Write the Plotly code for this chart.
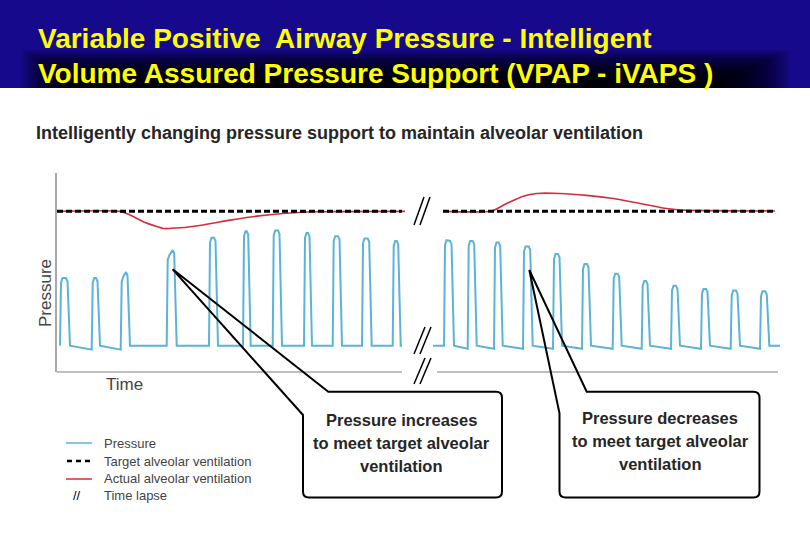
import plotly.graph_objects as go

W, H = 810, 540

# ------------------------------------------------------------------ data
title_lines = ["Variable Positive  Airway Pressure - Intelligent",
               "Volume Assured Pressure Support (VPAP - iVAPS )"]
subtitle = "Intelligently changing pressure support to maintain alveolar ventilation"

baseline_pressure = 3.3

# breaths before the time lapse (time units, pressure units)
left_rise = [0.3, 3.47, 6.37, 10.97, 15.2, 18.6, 21.57, 24.7, 27.57, 30.5, 33.57]
left_fall = [1.3, 4.3, 7.3, 11.97, 16.1, 19.37, 22.5, 25.5, 28.5, 31.47, 34.37]
left_peak_start = [11.75, 11.75, 11.9, 14.6, 16.8, 17.6, 17.7, 17.4, 17.0, 16.7, 16.4]
left_peak_end = [11.75, 11.75, 12.5, 15.25, 16.8, 17.6, 17.7, 17.4, 17.0, 16.7, 16.4]
left_dip = [0.0, 0.5, 0.5, 0.0, 0.0, 0.0, 0.0, 0.0, 0.0, 0.0, 0.0]
left_start, left_end = 0.3, 34.5

# breaths after the time lapse
right_rise = [38.7, 41.07, 43.7, 46.6, 49.6, 52.5, 55.57, 58.47, 61.4, 64.4, 67.37, 70.3]
right_fall = [39.7, 41.97, 44.57, 47.57, 50.5, 53.4, 56.47, 59.3, 62.3, 65.3, 68.3, 71.23]
right_peak_start = [16.5, 16.4, 16.2, 15.7, 14.75, 13.5, 12.3, 11.4, 10.8, 10.4, 10.2, 10.1]
right_peak_end = [16.4, 16.4, 16.2, 15.7, 14.75, 13.5, 12.3, 11.4, 10.8, 10.4, 10.2, 10.1]
right_dip = [0.0, 0.4, 0.4, 0.4, 0.4, 0.4, 0.4, 0.4, 0.4, 0.4, 0.4, 0.4]
right_start, right_end = 37.6, 72.3

# target alveolar ventilation (two segments)
target_level = 20.1
target_left_t = [0.0, 34.5]
target_right_t = [38.6, 71.8]

# actual alveolar ventilation
actual_left_t = [0.0, 6.3, 7.3, 8.63, 9.97, 10.63, 12.3, 14.6, 17.3, 19.97, 22.6, 25.6, 34.8]
actual_left_v = [20.1, 20.1, 19.65, 18.8, 18.2, 17.96, 18.04, 18.4, 19.0, 19.5, 19.84, 20.05, 20.1]
actual_right_t = [38.63, 43.47, 44.97, 46.63, 47.97, 50.3, 52.97, 55.63, 58.3, 60.97, 62.63, 71.8]
actual_right_v = [20.1, 20.15, 21.09, 22.0, 22.34, 22.34, 22.1, 21.7, 21.09, 20.46, 20.25, 20.15]

legend_labels = ["Pressure", "Target alveolar ventilation",
                 "Actual alveolar ventilation", "Time lapse"]
callout_left = ["Pressure increases", "to meet target alveolar", "ventilation"]
callout_right = ["Pressure decreases", "to meet target alveolar", "ventilation"]

# ------------------------------------------------------------------ style
BLUE = "#5cb4d5"
RED = "#d42e3a"
BANNER = "#16098c"
YELLOW = "#ffff00"
TEXT = "#262626"
GREY = "#444444"
AXIS = "#a8a8a8"
FONT = "Liberation Sans, Arial, sans-serif"


def fx(px):
    return px / W


def fy(py):
    return 1 - py / H


def waveform(start, end, rise, fall, ps, pe, dip, base):
    xs, ys = [], []
    if start < rise[0]:
        xs.append(start)
        ys.append(base)
    for r, f, a, b, d in zip(rise, fall, ps, pe, dip):
        xs += [r, r + 0.1, r + 0.25, f - 0.4, f - 0.25, f]
        ys += [base - d, a - 0.6, a, b, b - 0.4, base]
    if end > fall[-1]:
        xs.append(end)
        ys.append(base)
    return xs, ys


lx, ly = waveform(left_start, left_end, left_rise, left_fall,
                  left_peak_start, left_peak_end, left_dip, baseline_pressure)
rx, ry = waveform(right_start, right_end, right_rise, right_fall,
                  right_peak_start, right_peak_end, right_dip, baseline_pressure)

fig = go.Figure()

# pressure
fig.add_trace(go.Scatter(x=lx + [None] + rx, y=ly + [None] + ry, mode="lines",
                         name=legend_labels[0], line=dict(color=BLUE, width=2),
                         showlegend=False, hoverinfo="skip"))
# actual ventilation
fig.add_trace(go.Scatter(x=actual_left_t, y=actual_left_v, mode="lines",
                         name=legend_labels[2],
                         line=dict(color=RED, width=1.6, shape="spline", smoothing=0.6),
                         showlegend=False, hoverinfo="skip"))
fig.add_trace(go.Scatter(x=actual_right_t, y=actual_right_v, mode="lines",
                         name=legend_labels[2],
                         line=dict(color=RED, width=1.6, shape="spline", smoothing=0.6),
                         showlegend=False, hoverinfo="skip"))
# target ventilation
fig.add_trace(go.Scatter(x=target_left_t + [None] + target_right_t,
                         y=[target_level] * 2 + [None] + [target_level] * 2,
                         mode="lines", name=legend_labels[1],
                         line=dict(color="black", width=3, dash="6px,3px"),
                         showlegend=False, hoverinfo="skip"))

shapes = []
# banner
shapes.append(dict(type="rect", xref="paper", yref="paper", x0=0, x1=1,
                   y0=fy(88), y1=1, fillcolor=BANNER, line=dict(width=0), layer="below"))
n = 30
for i in range(n):
    shapes.append(dict(type="rect", xref="paper", yref="paper",
                       x0=fx(22 + i * 2.0), x1=fx(790 - i * 2.6),
                       y0=fy(88), y1=fy(50 + i * 1.15),
                       fillcolor="black", opacity=0.075, line=dict(width=0), layer="below"))

# x axis (broken)
for a, b in [(0, 34.5), (38.0, 72.1)]:
    shapes.append(dict(type="line", xref="x", yref="y domain", x0=a, x1=b, y0=0, y1=0,
                       line=dict(color=AXIS, width=1.5)))

# time-lapse marks
for (x0, y0, x1, y1) in [(414, 225, 424, 197), (414, 354, 425, 327), (414, 384, 425, 358)]:
    for off in (0, 6):
        shapes.append(dict(type="line", xref="paper", yref="paper",
                           x0=fx(x0 + off), y0=fy(y0), x1=fx(x1 + off), y1=fy(y1),
                           line=dict(color="black", width=1.5)))


def callout(tip, a_x, b_y, x0, x1, y0, y1, r=6):
    pts = [("M", tip), ("L", (a_x, y0)), ("L", (x1 - r, y0)),
           ("Q", (x1, y0), (x1, y0 + r)), ("L", (x1, y1 - r)),
           ("Q", (x1, y1), (x1 - r, y1)), ("L", (x0 + r, y1)),
           ("Q", (x0, y1), (x0, y1 - r)), ("L", (x0, b_y)), ("L", tip)]
    s = ""
    for p in pts:
        s += p[0] + " " + " ".join(f"{fx(q[0]):.5f},{fy(q[1]):.5f}" for q in p[1:]) + " "
    return dict(type="path", xref="paper", yref="paper", path=s.strip() + " Z",
                line=dict(color="black", width=2), fillcolor="rgba(0,0,0,0)")


shapes.append(callout((172.7, 269.3), 328.3, 415, 303, 502, 391.7, 497.5))
shapes.append(callout((529.3, 270.0), 586.7, 413.3, 559.5, 759.5, 391.7, 497.5))

# legend samples
shapes.append(dict(type="line", xref="paper", yref="paper", x0=fx(66), x1=fx(92),
                   y0=fy(443), y1=fy(443), line=dict(color=BLUE, width=1.5)))
shapes.append(dict(type="line", xref="paper", yref="paper", x0=fx(67), x1=fx(93),
                   y0=fy(461), y1=fy(461), line=dict(color="black", width=2.5, dash="5px,4px")))
shapes.append(dict(type="line", xref="paper", yref="paper", x0=fx(66), x1=fx(92),
                   y0=fy(479), y1=fy(479), line=dict(color=RED, width=1.5)))

ann = []
for txt, py in zip(title_lines, [38, 73]):
    ann.append(dict(text=f"<b>{txt}</b>", x=fx(36), y=fy(py), xref="paper", yref="paper",
                    xanchor="left", yanchor="middle", showarrow=False,
                    font=dict(family=FONT, size=28, color=YELLOW)))
ann.append(dict(text=f"<b>{subtitle}</b>", x=fx(34), y=fy(133), xref="paper", yref="paper",
                xanchor="left", yanchor="middle", showarrow=False,
                font=dict(family=FONT, size=18, color=TEXT)))
ann.append(dict(text="Pressure", x=fx(45), y=fy(293), xref="paper", yref="paper",
                textangle=-90, showarrow=False, xanchor="center", yanchor="middle",
                font=dict(family=FONT, size=17, color=GREY)))
ann.append(dict(text="Time", x=fx(124), y=fy(384), xref="paper", yref="paper",
                showarrow=False, xanchor="center", yanchor="middle",
                font=dict(family=FONT, size=17, color=GREY)))
for txt, py in zip(legend_labels, [443, 461, 478.5, 495]):
    ann.append(dict(text=txt, x=fx(102), y=fy(py), xref="paper", yref="paper",
                    xanchor="left", yanchor="middle", showarrow=False,
                    font=dict(family=FONT, size=13, color=GREY)))
ann.append(dict(text="//", x=fx(77), y=fy(495), xref="paper", yref="paper",
                xanchor="center", yanchor="middle", showarrow=False,
                font=dict(family=FONT, size=13, color="black")))
for lines, cx, ys in [(callout_left, 401, [420, 443, 466]),
                      (callout_right, 660, [418, 441, 464])]:
    for txt, py in zip(lines, ys):
        ann.append(dict(text=f"<b>{txt}</b>", x=fx(cx), y=fy(py), xref="paper", yref="paper",
                        xanchor="center", yanchor="middle", showarrow=False,
                        font=dict(family=FONT, size=16.5, color=TEXT)))

fig.update_layout(
    width=W, height=H, margin=dict(l=0, r=0, t=0, b=0),
    paper_bgcolor="white", plot_bgcolor="rgba(0,0,0,0)",
    xaxis=dict(domain=[fx(57), fx(780)], range=[0, 72.3], visible=False, fixedrange=True),
    yaxis=dict(domain=[fy(372), fy(173)], range=[0, 24.9], showgrid=False, zeroline=False,
               showticklabels=False, ticks="", showline=True, linecolor=AXIS, linewidth=1.5,
               fixedrange=True),
    shapes=shapes, annotations=ann, showlegend=False,
)

fig.write_html("out.html", config={"displayModeBar": False},
               post_script="document.body.style.margin='0';document.body.style.overflow='hidden';")
